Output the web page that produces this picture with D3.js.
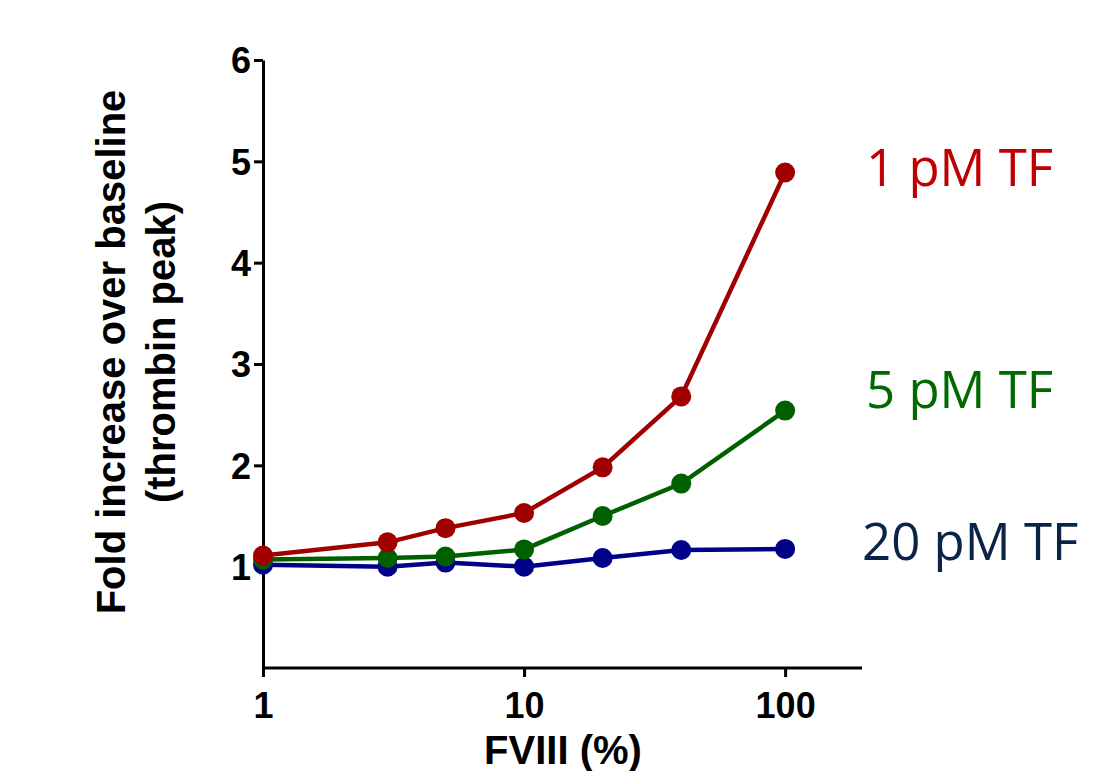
<!DOCTYPE html>
<html>
<head>
<meta charset="utf-8">
<script src="https://cdn.jsdelivr.net/npm/d3@7"></script>
<style>
  body { margin: 0; background: #fff; }
  .tick text { font-family: "Liberation Sans", Arial, sans-serif; font-weight: bold; }
</style>
</head>
<body>
<div id="chart"></div>
<script>
var fviii = [1, 3, 5, 10, 20, 40, 100];
var tf1 = [1.11, 1.24, 1.38, 1.53, 1.98, 2.68, 4.89];
var tf5 = [1.07, 1.085, 1.10, 1.17, 1.50, 1.82, 2.54];
var tf20 = [1.02, 1.00, 1.04, 1.00, 1.085, 1.165, 1.175];
var seriesNames = ["1 pM TF", "5 pM TF", "20 pM TF"];
var xTicks = [1, 10, 100];
var yTicks = [1, 2, 3, 4, 5, 6];

var svg = d3.select("#chart").append("svg")
	.attr("width", 1093)
	.attr("height", 771);

var x = d3.scaleLog().domain([1, 197]).range([263, 862]);
var y = d3.scaleLinear().domain([0, 6]).range([668, 60]);

var series = [
	{ name: seriesNames[0], values: tf1, color: "#a00000", label: "#c00000", ly: 186, lx: 866 },
	{ name: seriesNames[1], values: tf5, color: "#006000", label: "#006a00", ly: 408, lx: 866 },
	{ name: seriesNames[2], values: tf20, color: "#000088", label: "#0a2448", ly: 560, lx: 862 }
];

// axes
var xAxis = svg.append("g")
	.attr("transform", "translate(0,668)")
	.call(d3.axisBottom(x).tickValues(xTicks).tickFormat(d3.format("d")).tickSize(9).tickSizeOuter(0));
var yAxis = svg.append("g")
	.attr("transform", "translate(263,0)")
	.call(d3.axisLeft(y).tickValues(yTicks).tickFormat(d3.format("d")).tickSize(9).tickSizeOuter(0));

[xAxis, yAxis].forEach(function(a){
	a.select(".domain").attr("stroke", "#000").attr("stroke-width", 3);
	a.selectAll(".tick line").attr("stroke", "#000").attr("stroke-width", 3);
	a.selectAll(".tick text").attr("fill", "#000").style("font-size", "36px");
});
xAxis.selectAll(".tick text").attr("y", 50).attr("dy", 0);
yAxis.selectAll(".tick text").attr("x", -12).attr("dy", "0.36em");

// the x domain line should start at the y axis
xAxis.select(".domain").attr("d", "M263,0H862");

var line = d3.line()
	.x(function(d, i){ return x(fviii[i]); })
	.y(function(d){ return y(d); });

// draw blue first so red sits on top like the reference
series.slice().reverse().forEach(function(s){
	svg.append("path")
		.datum(s.values)
		.attr("fill", "none")
		.attr("stroke", s.color)
		.attr("stroke-width", 4.5)
		.attr("d", line);
	svg.selectAll(null)
		.data(s.values)
		.enter()
		.append("circle")
		.attr("cx", function(d, i){ return x(fviii[i]); })
		.attr("cy", function(d){ return y(d); })
		.attr("r", 10)
		.attr("fill", s.color);
});

svg.selectAll(".slabel")
	.data(series)
	.enter()
	.append("text")
	.attr("class", "slabel")
	.attr("x", function(d){ return d.lx; })
	.attr("y", function(d){ return d.ly; })
	.attr("fill", function(d){ return d.label; })
	.style("font-family", "'Open Sans', sans-serif")
	.style("font-size", "51px")
	.text(function(d){ return d.name; });

// axis titles
svg.append("text")
	.attr("x", 563)
	.attr("y", 764)
	.attr("text-anchor", "middle")
	.style("font-family", "'Liberation Sans', Arial, sans-serif")
	.style("font-weight", "bold")
	.style("font-size", "40px")
	.text("FVIII (%)");

var yt = svg.append("text")
	.attr("transform", "translate(0,352) rotate(-90)")
	.attr("text-anchor", "middle")
	.style("font-family", "'Liberation Sans', Arial, sans-serif")
	.style("font-weight", "bold")
	.style("font-size", "40px");
yt.append("tspan").attr("x", 0).attr("y", 125).text("Fold increase over baseline");
yt.append("tspan").attr("x", 0).attr("y", 175).text("(thrombin peak)");
</script>
</body>
</html>
